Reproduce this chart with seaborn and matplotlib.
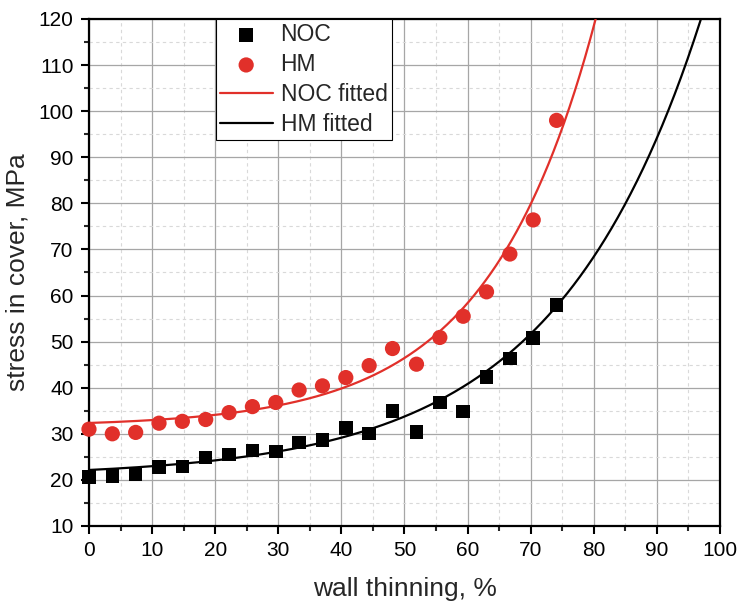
import numpy as np
import pandas as pd
import matplotlib
matplotlib.use("Agg")
import matplotlib.pyplot as plt
import seaborn as sns
from matplotlib.ticker import MultipleLocator

# wall thinning, %
thinning = [0.0, 3.7, 7.4, 11.1, 14.8, 18.5, 22.2, 25.9, 29.6, 33.3, 37.0,
            40.7, 44.4, 48.1, 51.9, 55.6, 59.3, 63.0, 66.7, 70.4, 74.1]
# measured stress in cover, MPa
noc_stress = [20.6, 20.8, 21.2, 22.8, 22.9, 24.9, 25.5, 26.4, 26.2, 28.1, 28.7,
              31.2, 30.1, 35.0, 30.4, 36.8, 34.8, 42.3, 46.3, 50.8, 57.9]
hm_stress = [31.0, 30.0, 30.3, 32.3, 32.7, 33.1, 34.6, 35.9, 36.8, 39.5, 40.4,
             42.2, 44.8, 48.5, 45.1, 50.9, 55.5, 60.8, 69.0, 76.4, 98.0]

# exponential growth fits: y = y0 + A * exp(x / t)
fit_red = dict(y0=31.56, A=0.786, t=17.0)
fit_black = dict(y0=20.63, A=1.52, t=23.2)

x_ticks = [0, 10, 20, 30, 40, 50, 60, 70, 80, 90, 100]
y_ticks = [10, 20, 30, 40, 50, 60, 70, 80, 90, 100, 110, 120]

RED = "#e1302a"

sns.set_theme(style="white")
plt.rcParams["font.family"] = ["Liberation Sans", "DejaVu Sans"]

fig = plt.figure(figsize=(7.39, 6.08), dpi=100)
ax = fig.add_axes([0.1204, 0.1349, 0.8539, 0.8339])

pts = pd.DataFrame({"x": thinning, "NOC": noc_stress, "HM": hm_stress})
xf = np.linspace(0, 100, 600)
curves = pd.DataFrame({
    "x": xf,
    "red": fit_red["y0"] + fit_red["A"] * np.exp(xf / fit_red["t"]),
    "black": fit_black["y0"] + fit_black["A"] * np.exp(xf / fit_black["t"]),
})

sns.scatterplot(data=pts, x="x", y="NOC", marker="s", s=95, color="black",
                edgecolor="none", ax=ax, label="NOC", zorder=4, clip_on=False)
sns.scatterplot(data=pts, x="x", y="HM", marker="o", s=120, color=RED,
                edgecolor="none", ax=ax, label="HM", zorder=4, clip_on=False)
sns.lineplot(data=curves, x="x", y="red", color=RED, lw=1.6, ax=ax,
             label="NOC fitted", zorder=3)
sns.lineplot(data=curves, x="x", y="black", color="black", lw=1.6, ax=ax,
             label="HM fitted", zorder=3)

ax.set_xlim(0, 100)
ax.set_ylim(10, 120)
ax.set_xticks(x_ticks)
ax.set_yticks(y_ticks)
ax.xaxis.set_minor_locator(MultipleLocator(5))
ax.yaxis.set_minor_locator(MultipleLocator(5))

ax.grid(which="major", color="#a6a6a6", lw=0.9, ls="-")
ax.grid(which="minor", color="#d9d9d9", lw=0.8, ls=(0, (3, 3)))
ax.set_axisbelow(True)

for side in ["left", "bottom", "top", "right"]:
    ax.spines[side].set_color("black")
    ax.spines[side].set_linewidth(1.6)
    ax.spines[side].set_visible(True)

ax.tick_params(which="major", direction="out", length=6, width=1.5,
               labelsize=15, colors="black", bottom=True, left=True,
               top=False, right=False, pad=5)
ax.tick_params(which="minor", direction="out", length=3.8, width=1.5,
               bottom=True, left=True, top=False, right=False)

ax.set_xlabel("wall thinning, %", fontsize=19, labelpad=12)
ax.set_ylabel("stress in cover, MPa", fontsize=19, labelpad=6.5)

leg = ax.legend(loc="upper left", bbox_to_anchor=(0.2008, 1.0),
                borderaxespad=0, fontsize=16.5, frameon=True, fancybox=False,
                edgecolor="black", framealpha=1, handlelength=2.3,
                handletextpad=0.35, labelspacing=0.3, borderpad=0.18)
leg.get_frame().set_linewidth(0.8)

fig.savefig("out.png", dpi=100)
